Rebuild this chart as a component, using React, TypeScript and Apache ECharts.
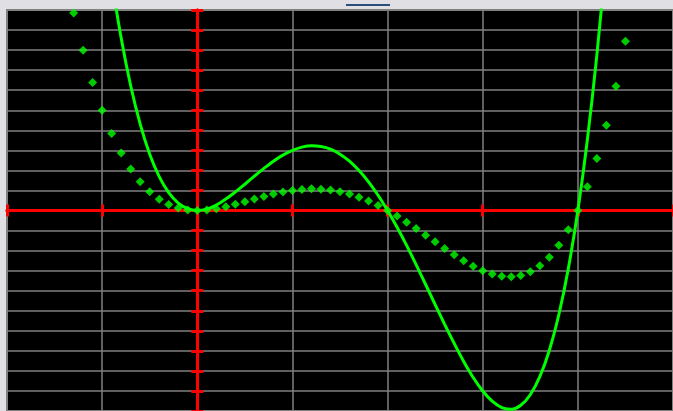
import React, { useEffect, useRef } from "react";
import * as echarts from "echarts";

// Diamond points (x, y)
const dotX = [
  -1.3, -1.2, -1.1, -1.0, -0.9, -0.8, -0.7, -0.6, -0.5, -0.4, -0.3, -0.2, -0.1,
  0.0, 0.1, 0.2, 0.3, 0.4, 0.5, 0.6, 0.7, 0.8, 0.9, 1.0, 1.1, 1.2, 1.3, 1.4,
  1.5, 1.6, 1.7, 1.8, 1.9, 2.0, 2.1, 2.2, 2.3, 2.4, 2.5, 2.6, 2.7, 2.8, 2.9,
  3.0, 3.1, 3.2, 3.3, 3.4, 3.5, 3.6, 3.7, 3.8, 3.9, 4.0, 4.1, 4.2, 4.3, 4.4, 4.5,
];
const dotY = [
  9.85, 7.99, 6.38, 5.0, 3.84, 2.87, 2.07, 1.44, 0.94, 0.56, 0.3, 0.12, 0.03,
  0.0, 0.02, 0.09, 0.19, 0.31, 0.44, 0.57, 0.7, 0.82, 0.92, 1.0, 1.05, 1.08, 1.06, 1.02,
  0.94, 0.82, 0.66, 0.48, 0.25, 0.0, -0.28, -0.58, -0.9, -1.23, -1.56, -1.89, -2.21, -2.51, -2.78,
  -3.0, -3.17, -3.28, -3.3, -3.24, -3.06, -2.76, -2.33, -1.73, -0.96, 0.0, 1.18, 2.59, 4.25, 6.2, 8.44,
];

// Solid curve (x, y)
const curveX = [
  -1.0, -0.9, -0.8, -0.7, -0.6, -0.5, -0.4, -0.3, -0.2, -0.1,
  0.0, 0.1, 0.2, 0.3, 0.4, 0.5, 0.6, 0.7, 0.8, 0.9, 1.0, 1.1, 1.2, 1.3, 1.4,
  1.5, 1.6, 1.7, 1.8, 1.9, 2.0, 2.1, 2.2, 2.3, 2.4, 2.5, 2.6, 2.7, 2.8, 2.9,
  3.0, 3.1, 3.2, 3.3, 3.4, 3.5, 3.6, 3.7, 3.8, 3.9, 4.0, 4.1, 4.2, 4.3,
];
const curveY = [
  15.0, 11.51, 8.6, 6.22, 4.31, 2.81, 1.69, 0.89, 0.37, 0.09,
  0.0, 0.07, 0.27, 0.57, 0.92, 1.31, 1.71, 2.1, 2.46, 2.76, 3.0, 3.16, 3.23, 3.19, 3.06,
  2.81, 2.46, 1.99, 1.43, 0.76, 0.0, -0.84, -1.74, -2.7, -3.69, -4.69, -5.68, -6.63, -7.53, -8.33,
  -9.0, -9.51, -9.83, -9.91, -9.71, -9.19, -8.29, -6.98, -5.2, -2.89, 0.0, 3.53, 7.76, 12.76,
];

// Axis ranges
const xMin = -2;
const xMax = 5;
const yMin = -10;
const yMax = 10;
const xStep = 1;
const yStep = 1;

const RED = "#ff0000";
const GREEN = "#00ff00";
const GRAY = "#808080";

export default function App() {
  const ref = useRef<HTMLDivElement>(null);

  useEffect(() => {
    if (!ref.current) return;
    const chart = echarts.init(ref.current, undefined, { renderer: "svg" });

    const baseX = (inside: boolean, split: boolean) => ({
      type: "value",
      min: xMin,
      max: xMax,
      interval: xStep,
      position: "bottom",
      axisLine: { show: true, onZero: true, lineStyle: { color: RED, width: 3 } },
      axisTick: { show: true, inside, length: 6, lineStyle: { color: RED, width: 3 } },
      axisLabel: { show: false },
      splitLine: { show: split, lineStyle: { color: GRAY, width: 1.5 } },
    });
    const baseY = (inside: boolean, split: boolean) => ({
      type: "value",
      min: yMin,
      max: yMax,
      interval: yStep,
      position: "left",
      axisLine: { show: true, onZero: true, lineStyle: { color: RED, width: 3 } },
      axisTick: { show: true, inside, length: 6, lineStyle: { color: RED, width: 3 } },
      axisLabel: { show: false },
      splitLine: { show: split, lineStyle: { color: GRAY, width: 1.5 } },
    });

    chart.setOption({
      animation: false,
      backgroundColor: "#e0e0e4",
      grid: {
        left: 7,
        top: 10,
        width: 670,
        height: 401,
        show: true,
        backgroundColor: "#000000",
        borderColor: GRAY,
        borderWidth: 2,
      },
      xAxis: [baseX(false, true), baseX(true, false)],
      yAxis: [baseY(false, true), baseY(true, false)],
      graphic: [
        {
          type: "rect",
          shape: { x: 346, y: 4, width: 44, height: 2 },
          style: { fill: "#2a4f7a" },
        },
      ],
      series: [
        {
          type: "line",
          xAxisIndex: 0,
          yAxisIndex: 0,
          data: curveX.map((x, i) => [x, curveY[i]]),
          showSymbol: false,
          smooth: 0.3,
          clip: true,
          lineStyle: { color: GREEN, width: 3 },
          z: 3,
        },
        {
          type: "scatter",
          xAxisIndex: 0,
          yAxisIndex: 0,
          data: dotX.map((x, i) => [x, dotY[i]]),
          symbol: "diamond",
          symbolSize: 9,
          itemStyle: { color: GREEN },
          z: 4,
        },
      ],
    });

    return () => chart.dispose();
  }, []);

  return (
    <div
      ref={ref}
      style={{ position: "fixed", left: 0, top: 0, width: 673, height: 411 }}
    />
  );
}
